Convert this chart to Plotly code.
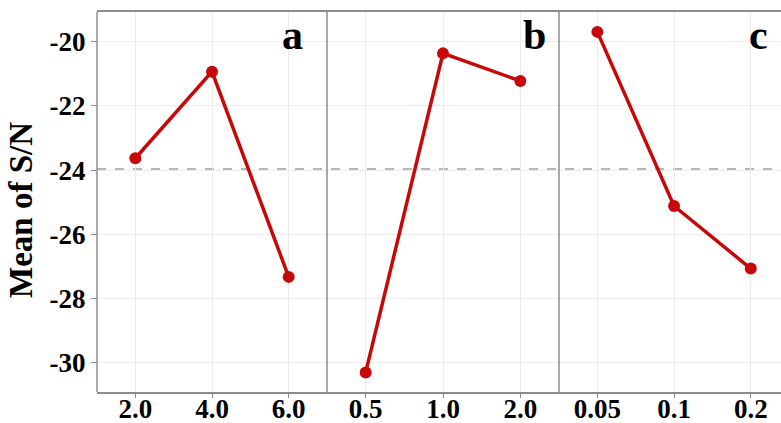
import plotly.graph_objects as go

# Data
cats_a = ["2.0", "4.0", "6.0"]
vals_a = [-23.63, -20.93, -27.33]
cats_b = ["0.5", "1.0", "2.0"]
vals_b = [-30.31, -20.36, -21.22]
cats_c = ["0.05", "0.1", "0.2"]
vals_c = [-19.69, -25.12, -27.07]
panel_labels = ["a", "b", "c"]
y_ticks = [-20, -22, -24, -26, -28, -30]

all_vals = vals_a + vals_b + vals_c
grand_mean = sum(all_vals) / len(all_vals)

RED = "#c80808"
FONT = "Liberation Serif"
GRID = "#ececec"
AX = "#8c8c8c"

fig = go.Figure()
for i, (c, v) in enumerate([(cats_a, vals_a), (cats_b, vals_b), (cats_c, vals_c)]):
    sfx = "" if i == 0 else str(i + 1)
    fig.add_trace(go.Scatter(
        x=c, y=v, mode="lines+markers",
        line=dict(color=RED, width=3.5),
        marker=dict(color=RED, size=12),
        xaxis="x" + sfx, yaxis="y" + sfx, showlegend=False,
    ))

W, H = 781, 423
L, T, B = 97, 12, 31
pw = W - L
d1 = (327 - L) / pw
d2 = (559 - L) / pw
ranges = [[-0.5, 2.5], [-0.5, 2.5], [-0.5, -0.5 + (W - 559) / 76.7]]
doms = [[0, d1], [d1, d2], [d2, 1]]

layout = dict(
    width=W, height=H,
    margin=dict(l=L, r=0, t=T, b=B),
    plot_bgcolor="white", paper_bgcolor="white",
    font=dict(family=FONT, color="black"),
)
for i in range(3):
    sfx = "" if i == 0 else str(i + 1)
    layout["xaxis" + sfx] = dict(
        domain=doms[i], type="category", range=ranges[i],
        anchor="y" + sfx, automargin=False,
        showgrid=True, gridcolor=GRID, gridwidth=1,
        showline=True, linecolor=AX, linewidth=1.5, mirror=True,
        ticks="outside", ticklen=4, tickcolor=AX,
        ticklabelstandoff=-12,
        tickfont=dict(family=FONT, size=27, color="black", weight="bold"),
        zeroline=False,
    )
    ya = dict(
        domain=[0, 1], range=[-30.92, -19.07], anchor="x" + sfx,
        automargin=False,
        tickvals=y_ticks, ticktext=[str(t) for t in y_ticks],
        showgrid=True, gridcolor=GRID, gridwidth=1,
        showline=False, zeroline=False,
    )
    if i == 0:
        ya.update(ticks="outside", ticklen=5, tickcolor=AX,
                  tickfont=dict(family=FONT, size=27, color="black", weight="bold"))
    else:
        ya.update(showticklabels=False, ticks="")
    layout["yaxis" + sfx] = ya

fig.update_layout(**layout)

fig.add_shape(type="line", xref="paper", yref="y", x0=0, x1=1,
              y0=grand_mean, y1=grand_mean,
              line=dict(color="#a0a0a0", width=1.5, dash="dash"), layer="below")

for xp in [0, d1, d2]:
    fig.add_shape(type="line", xref="paper", yref="paper", x0=xp, x1=xp,
                  y0=0, y1=1, line=dict(color=AX, width=1.5), layer="above")

label_x = [0.906, 0.951, 0.952]
for i, lab in enumerate(panel_labels):
    sfx = "" if i == 0 else str(i + 1)
    fig.add_annotation(text="<b>" + lab + "</b>", xref="x" + sfx + " domain",
                       yref="y" + sfx + " domain", x=label_x[i], y=1.004,
                       xanchor="right", yanchor="top", showarrow=False,
                       font=dict(family=FONT, size=42, color="black"))

fig.add_annotation(text="<b>Mean of S/N</b>", xref="paper", yref="paper",
                   x=-L / pw + 25 / pw, y=(H - B - 210) / (H - B - T),
                   xanchor="center", yanchor="middle", textangle=-90,
                   xshift=-4,
                   showarrow=False, font=dict(family=FONT, size=33, color="black"))

fig.write_html("out.html", config={"displayModeBar": False},
               post_script="document.body.style.margin='0';document.body.style.overflow='hidden';")
